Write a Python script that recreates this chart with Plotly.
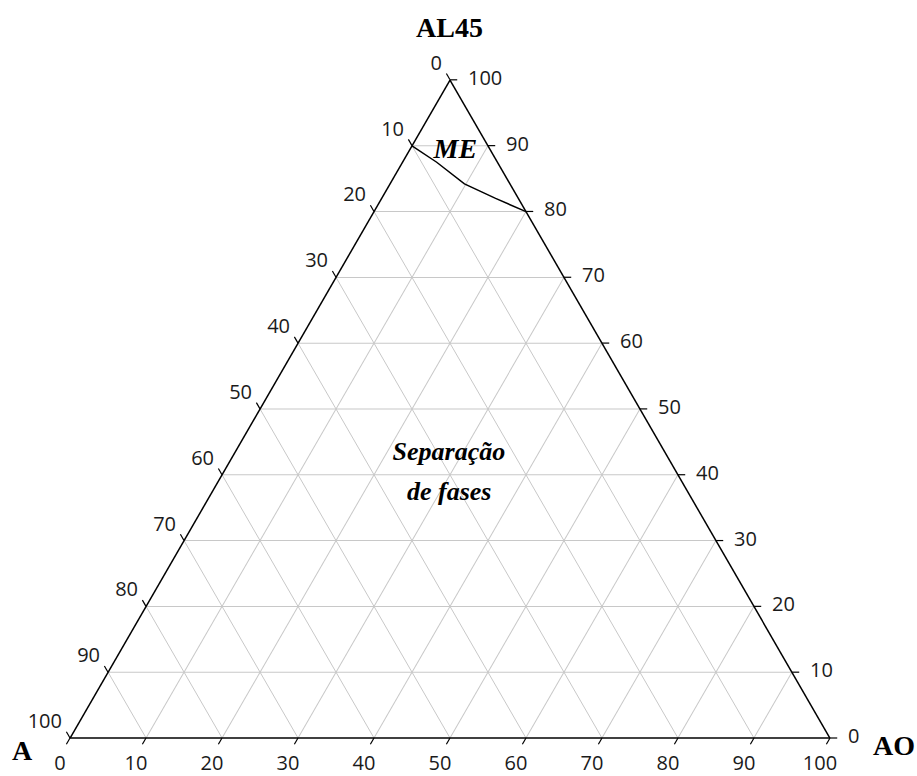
import math
import plotly.graph_objects as go

# Composition grid values (mass %), shared by the three axes
tick_vals = list(range(0, 101, 10))
tick_labels = [str(v) for v in tick_vals]

# Boundary of the microemulsion (ME) region: AL45 / A / AO in %
me_al45 = [90.0, 87.5, 84.2, 82.0, 80.0]
me_a = [10.0, 8.0, 6.0, 3.0, 0.0]
me_ao = [0.0, 4.5, 9.8, 15.0, 20.0]

# Region labels placed at ternary compositions
region_text = ["<b><i>ME</i></b>", "<b><i>Separação</i></b>", "<b><i>de fases</i></b>"]
region_size = [28, 26, 26]
region_al45 = [89.2, 43.3, 37.2]
region_a = [4.7, 28.5, 31.5]
region_ao = [6.1, 28.2, 31.3]

serif = "Liberation Serif, Times New Roman, serif"
sans = "Open Sans, sans-serif"

# Page and triangle layout (pixels)
FIG_W, FIG_H = 917, 776
TRI_LEFT, TRI_RIGHT, TRI_TOP, TRI_BOTTOM = 70, 830, 80, 738
PX = (TRI_RIGHT - TRI_LEFT) / 100.0          # pixels per composition unit
S3 = math.sqrt(3) / 2.0

# Helper cartesian frame laid over the whole page: u runs along the base
# (0..100 from A corner to AO corner), v is height in the same units.
x_range = [-TRI_LEFT / PX, (FIG_W - TRI_LEFT) / PX]
y_range = [-(FIG_H - TRI_BOTTOM) / PX, TRI_BOTTOM / PX]


def to_uv(al45, a, ao):
    """Composition (AL45, A, AO) -> helper-frame (u, v)."""
    return ao + al45 / 2.0, al45 * S3


TICK = 0.95  # tick length in composition units

fig = go.Figure()

# Ticks drawn outward along each component's own grid line (clockwise reading)
tk_u, tk_v = [], []
for val in tick_vals:
    segs = [
        ((100 - val, val, 0), (100 - val + TICK, val, -TICK)),      # left edge, A
        ((0, 100 - val, val), (-TICK, 100 - val + TICK, val)),      # bottom edge, AO
        ((val, 0, 100 - val), (val, -TICK, 100 - val + TICK)),      # right edge, AL45
    ]
    for p0, p1 in segs:
        u0, v0 = to_uv(*p0)
        u1, v1 = to_uv(*p1)
        tk_u += [u0, u1, None]
        tk_v += [v0, v1, None]
fig.add_trace(go.Scatter(
    x=tk_u, y=tk_v, mode="lines", line=dict(color="black", width=1.2),
    hoverinfo="skip", showlegend=False, xaxis="x", yaxis="y",
))

label_font = dict(family=sans, size=20, color="#1a1a1a")


def label_trace(points, dx, dy, position):
    us, vs = [], []
    for p in points:
        u, v = to_uv(*p)
        us.append(u + dx / PX)
        vs.append(v - dy / PX)
    return go.Scatter(
        x=us, y=vs, mode="text", text=tick_labels, textposition=position,
        textfont=label_font, hoverinfo="skip", showlegend=False,
        xaxis="x", yaxis="y",
    )


# Left edge: A content; bottom edge: AO content; right edge: AL45 content
fig.add_trace(label_trace([(100 - v, v, 0) for v in tick_vals], -8, -15, "middle left"))
fig.add_trace(label_trace([(0, 100 - v, v) for v in tick_vals], -10, 27, "middle center"))
fig.add_trace(label_trace([(v, 0, 100 - v) for v in tick_vals], 18, 0, "middle right"))

# ME boundary
fig.add_trace(go.Scatterternary(
    a=me_al45, b=me_a, c=me_ao, mode="lines",
    line=dict(color="black", width=1.5), hoverinfo="skip", showlegend=False,
))
# Region names
fig.add_trace(go.Scatterternary(
    a=region_al45, b=region_a, c=region_ao, mode="text",
    text=region_text, textfont=dict(family=serif, size=region_size, color="black"),
    hoverinfo="skip", showlegend=False,
))

axis_common = dict(
    tickmode="array", tickvals=tick_vals,
    ticks="", showticklabels=False,
    linecolor="black", linewidth=1.5,
    gridcolor="#c8c8c8", gridwidth=1, showgrid=True,
    min=0, title=dict(text=""),
)

hidden = dict(visible=False, showgrid=False, zeroline=False, fixedrange=True)
title_font = dict(family=serif, size=28, color="black")

fig.update_layout(
    width=FIG_W, height=FIG_H,
    margin=dict(l=0, r=0, t=0, b=0),
    paper_bgcolor="white",
    plot_bgcolor="rgba(0,0,0,0)",
    ternary=dict(
        sum=100,
        bgcolor="white",
        domain=dict(
            x=[TRI_LEFT / FIG_W, TRI_RIGHT / FIG_W],
            y=[(FIG_H - TRI_BOTTOM) / FIG_H, (FIG_H - TRI_TOP) / FIG_H],
        ),
        aaxis=axis_common,
        baxis=axis_common,
        caxis=axis_common,
    ),
    xaxis=dict(range=x_range, domain=[0, 1], **hidden),
    yaxis=dict(range=y_range, domain=[0, 1], **hidden),
    annotations=[
        dict(text="<b>AL45</b>", x=449, y=FIG_H - 28, xref="x domain", yref="y domain",
             showarrow=False, font=title_font, xanchor="center", yanchor="middle"),
        dict(text="<b>A</b>", x=22, y=FIG_H - 750, xref="x domain", yref="y domain",
             showarrow=False, font=title_font, xanchor="center", yanchor="middle"),
        dict(text="<b>AO</b>", x=894, y=FIG_H - 745, xref="x domain", yref="y domain",
             showarrow=False, font=title_font, xanchor="center", yanchor="middle"),
    ],
    showlegend=False,
)
# Title positions given in pixels -> domain fractions
for ann in fig.layout.annotations:
    ann.x = ann.x / FIG_W
    ann.y = ann.y / FIG_H

fig.write_html("out.html")
